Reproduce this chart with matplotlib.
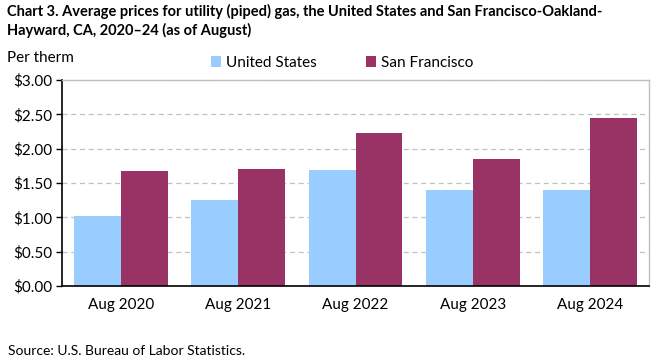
import matplotlib

matplotlib.use("Agg")
import matplotlib.pyplot as plt
import numpy as np

categories = ["Aug 2020", "Aug 2021", "Aug 2022", "Aug 2023", "Aug 2024"]
us_prices = [1.02, 1.25, 1.69, 1.40, 1.40]
sf_prices = [1.67, 1.70, 2.23, 1.85, 2.45]
series_names = ["United States", "San Francisco"]
yticks = [0.0, 0.5, 1.0, 1.5, 2.0, 2.5, 3.0]

plt.rcParams["font.family"] = ["Lato", "DejaVu Sans"]

fig = plt.figure(figsize=(6.61, 3.61), dpi=100)
ax = fig.add_axes([62 / 661, 1 - 286 / 361, 587 / 661, 206 / 361])

x = np.arange(len(categories))
w = 0.4
ax.bar(x - w / 2, us_prices, w, color="#99ccff", label=series_names[0], zorder=2)
ax.bar(x + w / 2, sf_prices, w, color="#993366", label=series_names[1], zorder=2)

ax.set_xlim(-0.5, len(categories) - 0.5)
ax.set_ylim(0, 3.0)
ax.set_yticks(yticks)
ax.set_yticklabels(["$%.2f" % v for v in yticks])
ax.set_xticks(x)
ax.set_xticklabels(categories)
ax.tick_params(axis="both", labelsize=11, colors="#000000")
ax.tick_params(axis="x", length=0, pad=9)
ax.tick_params(axis="y", length=4, width=1, pad=3, direction="out")

ax.grid(True, axis="y", color="#c0c0c0", linestyle=(0, (4, 3)), linewidth=0.9, zorder=0)
for side in ("top", "right"):
    ax.spines[side].set_color("#bfbfbf")
    ax.spines[side].set_linewidth(1.0)
for side in ("left", "bottom"):
    ax.spines[side].set_color("#000000")
    ax.spines[side].set_linewidth(1.2)

fig.text(7 / 661, 1 - 4 / 361,
         "Chart 3. Average prices for utility (piped) gas, the United States and San Francisco-Oakland-\n"
         "Hayward, CA, 2020\u201324 (as of August)",
         ha="left", va="top", fontsize=10.5, fontweight="bold", linespacing=1.35)
fig.text(7 / 661, 1 - 58 / 361, "Per therm", ha="left", va="center", fontsize=11)
fig.legend(loc="center", bbox_to_anchor=(342 / 661, 1 - 63 / 361), ncol=2,
           frameon=False, fontsize=11, handlelength=0.7, handleheight=0.7,
           handletextpad=0.3, columnspacing=3.2)
fig.text(8 / 661, 1 - 351 / 361, "Source: U.S. Bureau of Labor Statistics.",
         ha="left", va="center", fontsize=10)

fig.savefig("out.png", dpi=100)
